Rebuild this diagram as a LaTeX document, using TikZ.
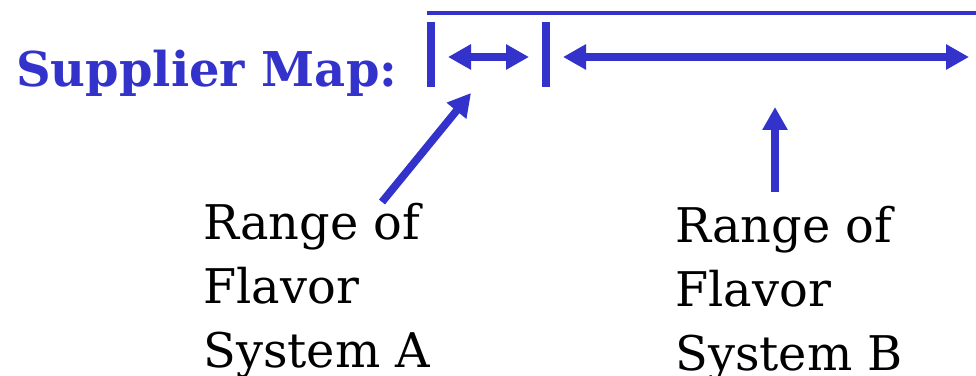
\documentclass[tikz,border=0pt]{standalone}
\usepackage{fontspec}
\setmainfont{DejaVu Serif}
\usetikzlibrary{arrows.meta}
\definecolor{mapblue}{RGB}{51,51,204}
\tikzset{
  rangebar/.style={mapblue, line width=4.5pt},
  uparr/.style={mapblue, line width=4.4pt, -{Triangle[length=0.46cm,width=0.48cm]}},
  spanarr/.style={mapblue, line width=4.2pt, {Triangle[length=0.46cm,width=0.48cm]}-{Triangle[length=0.46cm,width=0.48cm]}},
  rangelbl/.style={align=left, inner sep=0pt, anchor=base west, font=\fontsize{27.2pt}{36.4pt}\selectfont}
}

\begin{document}
\begin{tikzpicture}[x=0.02cm, y=-0.02cm]
        \useasboundingbox (0,0) rectangle (976,375);
        % title
        \node[anchor=base west, inner sep=0pt, mapblue, font=\bfseries\fontsize{27.3pt}{30pt}\selectfont] (title) at (16,87) {Supplier Map:};
        % top line
        \coordinate (topL) at (427,13);
        \coordinate (topR) at (976,13);
        \draw[mapblue, line width=2.3pt] (topL) -- (topR);
        % range bars
        \coordinate (barAt) at (431,22);
        \coordinate (barAb) at (431,87);
        \coordinate (barBt) at (546,22);
        \coordinate (barBb) at (546,87);
        \draw[rangebar] (barAt) -- (barAb);
        \draw[rangebar] (barBt) -- (barBb);
        % spans
        \coordinate (spanAl) at (448,57);
        \coordinate (spanAr) at (529,57);
        \coordinate (spanBl) at (563,57);
        \coordinate (spanBr) at (969,57);
        \draw[spanarr] (spanAl) -- (spanAr);
        \draw[spanarr] (spanBl) -- (spanBr);
        % labels (base = last line)
        \node[rangelbl] (lblA) at (203,367) {Range of\\Flavor\\System A};
        \node[rangelbl] (lblB) at (675,370) {Range of\\Flavor\\System B};
        % pointers
        \coordinate (ptrAtail) at (382,202);
        \coordinate (ptrAtip) at (471,93);
        \coordinate (ptrBtail) at (775,192);
        \coordinate (ptrBtip) at (775,107);
        \draw[uparr] (ptrAtail) -- (ptrAtip);
        \draw[uparr] (ptrBtail) -- (ptrBtip);
    \end{tikzpicture}
\end{document}
